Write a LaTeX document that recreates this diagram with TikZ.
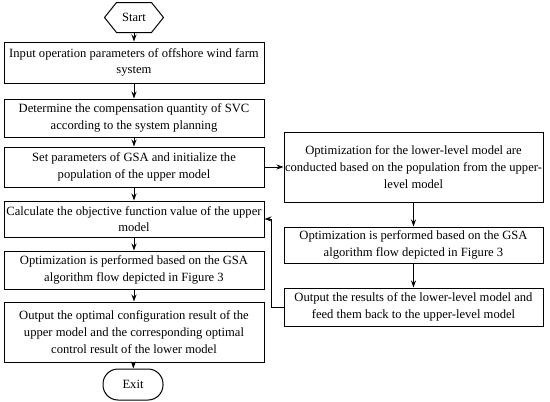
\documentclass[tikz,border=0pt]{standalone}
\usepackage{fontspec}
\setmainfont{Liberation Serif}
\usetikzlibrary{arrows.meta,calc}
\begin{document}
\begin{tikzpicture}[x=1pt,y=-1pt,
 box/.style={draw,line width=1pt,align=center,inner sep=0pt,font=\fontsize{12.6}{16.7}\selectfont},
 lbox/.style={box,minimum width=260pt},
 rbox/.style={box,minimum width=259pt},
 arr/.style={-{Stealth[length=7pt,width=5pt]},line width=1pt}]
\useasboundingbox[fill=white] (0,0) rectangle (550,402);
\node[box,draw=none,minimum width=58pt,minimum height=29pt] (start) at (134,17.5) {Start};
\draw[line width=1pt] (start.west) -- ($(start.north west)+(12,0)$) -- ($(start.north east)+(-12,0)$) -- (start.east) -- ($(start.south east)+(-12,0)$) -- ($(start.south west)+(12,0)$) -- cycle;
\node[lbox,minimum height=41pt] (l1) at (134,62.5) {Input operation parameters of offshore wind farm\\system};
\node[lbox,minimum height=38pt] (l2) at (134,118) {Determine the compensation quantity of SVC\\according to the system planning};
\node[lbox,minimum height=40pt] (l3) at (134,167) {Set parameters of GSA and initialize the\\population of the upper model};
\node[lbox,minimum height=36pt] (l4) at (134,219) {Calculate the objective function value of the upper\\model};
\node[lbox,minimum height=38pt] (l5) at (134,270) {Optimization is performed based on the GSA\\algorithm flow depicted in Figure 3};
\node[lbox,minimum height=60pt] (l6) at (134,332) {Output the optimal configuration result of the\\upper model and the corresponding optimal\\control result of the lower model};
\node[box,minimum width=60pt,minimum height=31pt,rounded corners=15pt] (exit) at (133,384.5) {Exit};
\node[rbox,minimum height=70pt] (r1) at (413.5,167) {Optimization for the lower-level model are\\conducted based on the population from the upper-\\level model};
\node[rbox,minimum height=36pt] (r2) at (413.5,245) {Optimization is performed based on the GSA\\algorithm flow depicted in Figure 3};
\node[rbox,minimum height=38pt] (r3) at (413.5,307) {Output the results of the lower-level model and\\feed them back to the upper-level model};
\draw[arr] (start) -- (l1);
\draw[arr] (l1) -- (l2);
\draw[arr] (l2) -- (l3);
\draw[arr] (l3) -- (l4);
\draw[arr] (l4) -- (l5);
\draw[arr] (l5) -- (l6);
\draw[arr] (l6) -- (exit);
\draw[arr] (l3.east) -- (r1.west);
\draw[arr] (r1) -- (r2);
\draw[arr] (r2) -- (r3);
\draw[arr] (r3.west) -- ++(-12,0) |- (l4.east);
\end{tikzpicture}
\end{document}
